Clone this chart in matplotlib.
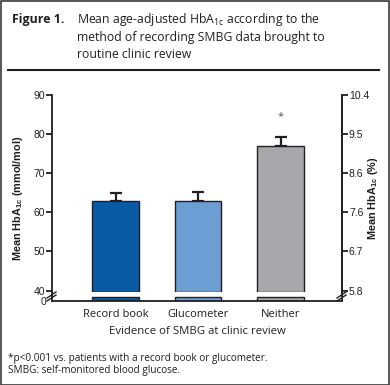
import matplotlib
matplotlib.use("Agg")
import matplotlib.pyplot as plt
from matplotlib.lines import Line2D
from matplotlib.patches import Rectangle

categories = ["Record book", "Glucometer", "Neither"]
means = [63.0, 62.8, 76.9]
errors = [1.9, 2.4, 2.4]
colors = ["#0a5ba6", "#6c9ed4", "#a6a8ab"]
left_ticks = [40, 50, 60, 70, 80, 90]
right_labels = ["5.8", "6.7", "7.6", "8.6", "9.5", "10.4"]
star_value = 84.6

W, H = 390, 385
fig = plt.figure(figsize=(W / 100, H / 100), dpi=100)
ink = "#231f20"
plt.rcParams['font.family'] = ['Open Sans', 'DejaVu Sans']
narrow = ['Liberation Sans Narrow', 'Liberation Sans', 'DejaVu Sans']

def fx(px):
    return px / W

def fy(py):
    return 1 - py / H

# border
fig.patches.append(Rectangle((0.5 / W, 0.5 / H), 1 - 1.5 / W, 1 - 1.5 / H,
                             transform=fig.transFigure, fill=False,
                             edgecolor="#3a3a3a", linewidth=1.2))
# title
fig.text(fx(12), fy(20), "Figure 1.", fontsize=8.9, fontweight="bold",
         color=ink, va="center", ha="left")
title_lines = [r"Mean age-adjusted HbA$_{\mathregular{1c}}$ according to the",
               "method of recording SMBG data brought to",
               "routine clinic review"]
for i, t in enumerate(title_lines):
    fig.text(fx(77), fy(20 + 17 * i), t, fontsize=8.8, color=ink,
             va="center", ha="left")
fig.add_artist(Line2D([fx(8), fx(379)], [fy(70), fy(70)],
                      transform=fig.transFigure, color=ink, linewidth=1.5))

# axes geometry (pixels)
axL, axR = 52, 342
top_px, br_px, base_px = 95, 292, 301
x = list(range(len(categories)))
xl = (-0.77, 2.745)
bw = 0.56

ax = fig.add_axes([fx(axL), fy(br_px), (axR - axL) / W, (br_px - top_px) / H])
axb = fig.add_axes([fx(axL), fy(base_px), (axR - axL) / W, (base_px - br_px) / H])

lo = 40
ax.set_ylim(lo - 0.35 * (90 - lo) / 197 * 4, 90)
ax.set_xlim(*xl)
ax.bar(x, [m - (lo - 0.25) for m in means], bottom=lo - 0.25, width=bw,
       color=colors, edgecolor=ink, linewidth=1.0, zorder=2)
ax.errorbar(x, means, yerr=[[0] * 3, errors], fmt="none", ecolor=ink,
            elinewidth=1.6, capsize=4, capthick=1.6, zorder=1)
ax.text(x[2], star_value, "*", ha="center", va="center", fontsize=8, color="#555555")

for s in ["top", "bottom"]:
    ax.spines[s].set_visible(False)
for s in ["left", "right"]:
    ax.spines[s].set_linewidth(1.3)
    ax.spines[s].set_color(ink)
ax.set_xticks([])
ax.set_yticks(left_ticks)
ax.tick_params(axis="y", direction="out", length=4, width=1.3, color=ink,
               labelsize=7.5, labelcolor=ink, pad=1)
for lab in ax.get_yticklabels():
    lab.set_family(narrow)

ax2 = ax.twinx()
ax2.set_ylim(ax.get_ylim())
ax2.set_yticks(left_ticks)
ax2.set_yticklabels(right_labels)
for s in ["top", "bottom", "left"]:
    ax2.spines[s].set_visible(False)
ax2.spines["right"].set_linewidth(1.3)
ax2.spines["right"].set_color(ink)
ax2.tick_params(axis="y", direction="out", length=4, width=1.3, color=ink,
                labelsize=7.5, labelcolor=ink, pad=1)
for lab in ax2.get_yticklabels():
    lab.set_family(narrow)

# lower stub axes
axb.set_xlim(*xl)
axb.set_ylim(0, 2)
axb.bar(x, [1] * 3, width=bw, color=colors, edgecolor=ink, linewidth=1.0)
axb.patch.set_alpha(0)
axb.spines["top"].set_visible(False)
for s in ["left", "right", "bottom"]:
    axb.spines[s].set_linewidth(1.3)
    axb.spines[s].set_color(ink)
axb.set_yticks([0])
axb.set_yticklabels(["0"])
axb.tick_params(axis="y", length=0, labelsize=7.5, labelcolor=ink, pad=4)
for lab in axb.get_yticklabels():
    lab.set_family(narrow)
axb.set_xticks(x)
axb.set_xticklabels(categories)
axb.tick_params(axis="x", length=0, labelsize=8, labelcolor=ink, pad=6)

# break marks
for cx in (axL, axR):
    for dy in (0, 3):
        fig.add_artist(Line2D([fx(cx - 5), fx(cx + 4)],
                              [fy(br_px + 6 + dy), fy(br_px + 0 + dy)],
                              transform=fig.transFigure, color=ink, linewidth=1.0))

# axis labels
fig.text(fx(197), fy(331),
         "Evidence of SMBG at clinic review", ha="center", va="center",
         fontsize=8.2, color=ink)
fig.text(fx(18), fy(198), r"Mean HbA$_{\mathregular{1c}}$ (mmol/mol)",
         rotation=90, ha="center", va="center", fontsize=7.8, color=ink,
         family=narrow, fontweight="bold")
fig.text(fx(373), fy(198), r"Mean HbA$_{\mathregular{1c}}$ (%)",
         rotation=90, ha="center", va="center", fontsize=7.8, color=ink,
         family=narrow, fontweight="bold")

# footnotes
fig.text(fx(8), fy(358), "*p<0.001 vs. patients with a record book or glucometer.",
         ha="left", va="center", fontsize=7.2, color=ink)
fig.text(fx(8), fy(370), "SMBG: self-monitored blood glucose.",
         ha="left", va="center", fontsize=7.2, color=ink)

fig.savefig("out.png", dpi=100)
